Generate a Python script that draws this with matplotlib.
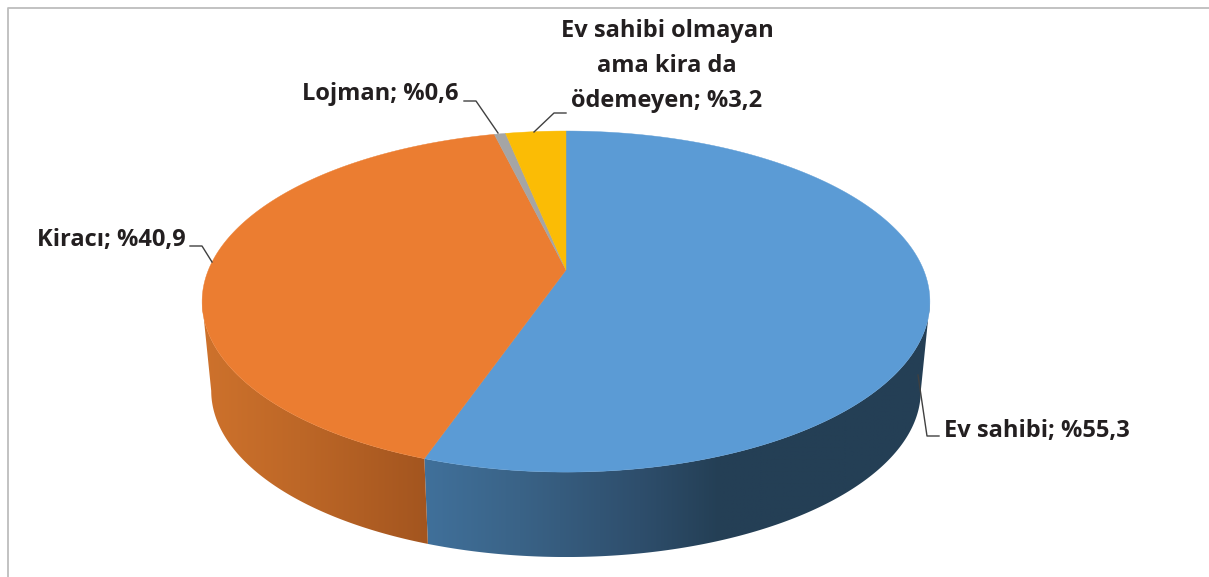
#! /usr/bin/env python
# -*- coding: utf-8 -*-

import numpy as np
from matplotlib import pyplot as plt
from matplotlib.colors import to_rgb
from matplotlib.patches import Polygon

# Slices, clockwise from 12 o'clock
labels = ["Ev sahibi", "Kiracı", "Lojman", "Ev sahibi olmayan\nama kira da\nödemeyen"]
values = [55.3, 40.9, 0.6, 3.2]
colors = ["#5B9BD5", "#EB7D31", "#A5A5A5", "#FBBC05"]

# Geometry of the tilted disc, in pixels
CX = 566.0
APEX_Y = 270.0
RADIUS_X = 357.6
RADIUS_Y = 164.7
PERSP = 0.185
DEPTH = 90.0
BOTTOM_SCALE = 0.975
SILHOUETTE = 100.7

TEXT_COLOR = "#231F20"
LINE_COLOR = "#404040"
hfont = {'fontname': 'Open Sans', 'fontsize': 17, 'fontweight': 'bold', 'color': TEXT_COLOR}


def project(degrees, bottom=False):
    # Point on the rim as seen in perspective, angle clockwise from the top
    theta = np.radians(degrees)
    u = np.sin(theta)
    v = np.cos(theta)
    scale = BOTTOM_SCALE if bottom else 1.0
    apexY = APEX_Y + DEPTH if bottom else APEX_Y
    x = CX + scale * RADIUS_X * u / (1 + PERSP * v)
    y = apexY - scale * RADIUS_Y * v / (1 + PERSP * v)
    return np.column_stack([x, y])


def drawSide(ax, startAngle, endAngle, stops):
    # Outer wall of a slice, filled with a horizontal gradient
    angles = np.linspace(startAngle, endAngle, 200)
    outline = np.vstack([project(angles), project(angles[::-1], bottom=True)])
    wall = Polygon(outline, closed=True, facecolor='none', edgecolor='none')
    ax.add_patch(wall)
    x0 = outline[:, 0].min()
    x1 = outline[:, 0].max()
    y0 = outline[:, 1].min()
    y1 = outline[:, 1].max()
    columns = np.linspace(x0, x1, 512)
    stopX = [s[0] for s in stops]
    stopRGB = np.array([to_rgb(s[1]) for s in stops])
    gradient = np.stack([np.interp(columns, stopX, stopRGB[:, c]) for c in range(3)], axis=-1)
    image = ax.imshow(gradient[np.newaxis, :, :], aspect='auto', extent=(x0, x1, y1, y0),
                      interpolation='bilinear', zorder=1)
    image.set_clip_path(wall)


fig = plt.figure(figsize=(12.09, 5.77), dpi=100)
ax = fig.add_axes([0, 0, 1, 1])
ax.axis('off')

# Chart frame, only left and top are inside the crop
ax.plot([8, 8, 1209], [577, 7.5, 7.5], color='#BDBDBD', linewidth=1.3, zorder=0)

edges = np.concatenate([[0], np.cumsum(values)]) * 3.6

# Only the first two slices show their wall
drawSide(ax, SILHOUETTE, edges[1], [(428, "#40709A"), (520, "#3A6387"), (640, "#2E4E6C"),
                                    (720, "#243F55"), (918, "#243F55")])
drawSide(ax, edges[1], 360 - SILHOUETTE, [(202, "#CE722C"), (300, "#BD6727"), (428, "#A3551F")])

for i in range(len(values)):
    angles = np.linspace(edges[i], edges[i + 1], 300)
    points = np.vstack([[CX, APEX_Y], project(angles)])
    ax.add_patch(Polygon(points, closed=True, facecolor=colors[i], edgecolor=colors[i],
                         linewidth=0.3, zorder=2))

# Leader lines
leaders = [([939, 927, 918], [436, 436, 375]),
           ([190, 202, 212], [246, 246, 262]),
           ([464, 476, 498], [101, 101, 133]),
           ([566, 554, 534], [113, 113, 132])]
for xs, ys in leaders:
    ax.plot(xs, ys, color=LINE_COLOR, linewidth=1, zorder=3)

# Data labels
ax.text(944, 431, labels[0] + "; %" + str(values[0]).replace('.', ','),
        ha='left', va='center', **hfont)
ax.text(186, 240, labels[1] + "; %" + str(values[1]).replace('.', ','),
        ha='right', va='center', **hfont)
ax.text(459, 94, labels[2] + "; %" + str(values[2]).replace('.', ','),
        ha='right', va='center', **hfont)
ax.text(667, 66, labels[3] + "; %" + str(values[3]).replace('.', ','),
        ha='center', va='center', linespacing=1.6, **hfont)

ax.set_xlim(0, 1209)
ax.set_ylim(577, 0)

plt.savefig("out.png", dpi=100)
plt.clf()
